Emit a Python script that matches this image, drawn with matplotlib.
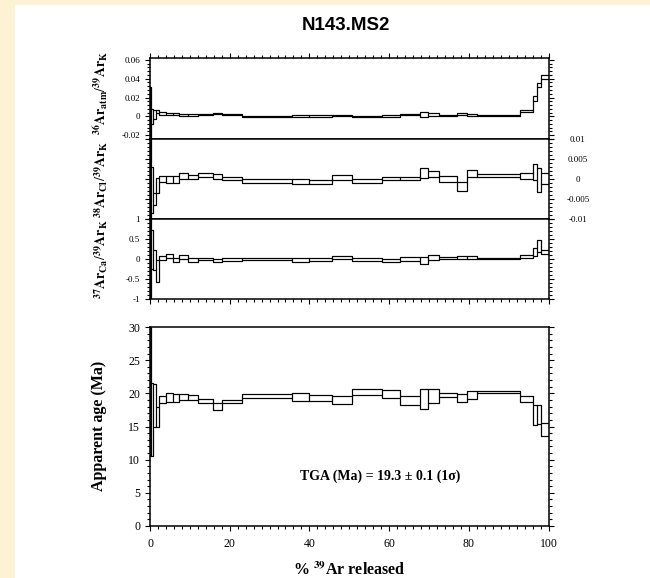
import numpy as np
import matplotlib
matplotlib.use("Agg")
import matplotlib.pyplot as plt
from matplotlib.ticker import MultipleLocator, FormatStrFormatter
from matplotlib.patches import Rectangle

plt.rcParams['font.family'] = ['Liberation Serif', 'DejaVu Serif']
plt.rcParams['mathtext.fontset'] = 'stix'
plt.rcParams['axes.unicode_minus'] = False

# cumulative % 39Ar released at the step boundaries
edges = [0, 0.3, 0.8, 1.5, 2.3, 4.1, 5.8, 7.4, 9.6, 12.1, 15.8, 18.0, 23.1,
         35.7, 39.8, 45.7, 50.7, 58.2, 62.8, 67.8, 69.8, 72.6, 77.0, 79.5,
         82.0, 92.9, 96.2, 97.2, 98.2, 100]

# apparent age (Ma) and 1 sigma
age = [22.2, 16.0, 18.2, 16.5, 19.05, 19.35, 19.3, 19.45, 19.4, 18.8, 18.0,
       18.75, 19.6, 19.5, 19.35, 19.0, 20.2, 19.9, 18.95, 19.1, 19.6, 19.75,
       19.3, 19.75, 20.2, 19.15, 16.7, 16.8, 14.55]
age_err = [11.7, 5.5, 3.2, 1.5, 0.55, 0.7, 0.65, 0.5, 0.4, 0.3, 0.5, 0.25,
           0.3, 0.6, 0.45, 0.6, 0.45, 0.6, 0.65, 1.5, 1.0, 0.35, 0.6, 0.65,
           0.2, 0.45, 1.5, 1.4, 0.95]

# 36Ar(atm)/39Ar(K)
atm = [0.003, 0.0, 0.002, 0.005, 0.003, 0.0025, 0.002, 0.0012, 0.0012, 0.002,
       0.003, 0.002, 0.0, 0.0, 0.0005, 0.001, -0.0005, 0.0005, 0.002, 0.002,
       0.002, 0.0008, 0.0022, 0.0015, 0.001, 0.0055, 0.019, 0.0335, 0.042]
atm_err = [0.028, 0.008, 0.005, 0.002, 0.0012, 0.001, 0.001, 0.001, 0.001,
           0.0008, 0.001, 0.0008, 0.0006, 0.001, 0.0008, 0.0008, 0.0006,
           0.0008, 0.0008, 0.003, 0.0012, 0.0008, 0.001, 0.0008, 0.0004,
           0.0012, 0.0025, 0.0022, 0.002]

# 38Ar(Cl)/39Ar(K)
cl = [0.0, -0.0028, -0.005, -0.0017, 0.0, -0.0001, -0.0001, 0.0007, 0.00055,
      0.0009, 0.0006, 0.00015, -0.0005, -0.00065, -0.0007, 0.00035, -0.0005,
      0.0002, 0.0002, 0.00145, 0.00125, 0.00005, -0.0018, 0.00145, 0.0009,
      0.00065, 0.0017, -0.00025, 0.0002]
cl_err = [0.02, 0.0058, 0.0015, 0.0019, 0.0007, 0.0008, 0.0008, 0.0007,
          0.00055, 0.0005, 0.0007, 0.00045, 0.0004, 0.00055, 0.0005, 0.00065,
          0.0004, 0.0004, 0.0004, 0.00125, 0.00085, 0.00075, 0.0011, 0.00085,
          0.0003, 0.00075, 0.002, 0.00295, 0.0014]

# 37Ar(Ca)/39Ar(K)
ca = [0.0, 0.23, -0.03, -0.3, 0.015, 0.07, -0.03, 0.045, -0.025, -0.01,
      -0.05, -0.02, -0.01, -0.03, -0.02, 0.035, -0.02, -0.035, -0.005,
      -0.035, 0.03, 0.02, 0.025, 0.035, 0.005, 0.05, 0.165, 0.32, 0.17]
ca_err = [1.2, 0.5, 0.25, 0.28, 0.045, 0.05, 0.05, 0.055, 0.045, 0.03, 0.04,
          0.03, 0.02, 0.04, 0.035, 0.04, 0.03, 0.04, 0.04, 0.09, 0.055, 0.02,
          0.035, 0.04, 0.015, 0.035, 0.105, 0.16, 0.05]

W, H = 650, 578


def fx(px):
    return px / W


def fy(py):
    return 1 - py / H


fig = plt.figure(figsize=(6.5, 5.78), dpi=100, facecolor='#fdf2d4')
fig.patches.append(Rectangle((fx(15), 0), 1, fy(5), transform=fig.transFigure,
                             facecolor='white', edgecolor='none', zorder=-1))

L, R = 150, 548.5


def make_ax(top, bottom):
    return fig.add_axes([fx(L), fy(bottom), fx(R - L), fy(top) - fy(bottom)])


ax_atm = make_ax(58, 139)
ax_cl = make_ax(139, 219)
ax_ca = make_ax(219, 298.5)
ax_age = make_ax(327, 526)


def spectrum(ax, val, err):
    val = np.array(val)
    err = np.array(err)
    lo, hi = val - err, val + err
    ax.bar(edges[:-1], hi - lo, width=np.diff(edges), bottom=lo, align='edge',
           fill=False, edgecolor='black', linewidth=0.8)
    ax.stairs(hi, edges, baseline=None, color='black', linewidth=0.8)
    ax.stairs(lo, edges, baseline=None, color='black', linewidth=0.8)


for ax in (ax_atm, ax_cl, ax_ca, ax_age):
    ax.set_xlim(0, 100)
    ax.xaxis.set_major_locator(MultipleLocator(20))
    ax.xaxis.set_minor_locator(MultipleLocator(2))
    for s in ax.spines.values():
        s.set_linewidth(1.1)
    ax.tick_params(which='both', direction='out', width=0.8, labelsize=6.5)
    ax.tick_params(which='major', length=3.6)
    ax.tick_params(which='minor', length=2.2)

spectrum(ax_atm, atm, atm_err)
ax_atm.set_ylim(-0.0242, 0.0621)
ax_atm.yaxis.set_major_locator(MultipleLocator(0.02))
ax_atm.yaxis.set_minor_locator(MultipleLocator(0.004))
ax_atm.yaxis.set_major_formatter(FormatStrFormatter('%g'))
ax_atm.tick_params(which='both', top=True, bottom=False, right=True,
                   labelbottom=False, labeltop=False)

spectrum(ax_cl, cl, cl_err)
ax_cl.set_ylim(-0.01, 0.01)
ax_cl.yaxis.set_major_locator(MultipleLocator(0.005))
ax_cl.yaxis.set_minor_locator(MultipleLocator(0.001))
ax_cl.yaxis.set_major_formatter(FormatStrFormatter('%g'))
ax_cl.tick_params(which='both', top=False, bottom=False, right=True,
                  labelbottom=False, labelleft=False, labelright=True)
ax_cl.tick_params(axis='y', pad=17.5)
for t in ax_cl.get_yticklabels():
    t.set_horizontalalignment('center')

spectrum(ax_ca, ca, ca_err)
ax_ca.set_ylim(-1, 1)
ax_ca.yaxis.set_major_locator(MultipleLocator(0.5))
ax_ca.yaxis.set_minor_locator(MultipleLocator(0.1))
ax_ca.yaxis.set_major_formatter(FormatStrFormatter('%g'))
ax_ca.tick_params(which='both', top=False, bottom=True, right=True,
                  labelbottom=False)

spectrum(ax_age, age, age_err)
ax_age.set_ylim(0, 30)
ax_age.yaxis.set_major_locator(MultipleLocator(5))
ax_age.yaxis.set_minor_locator(MultipleLocator(1))
ax_age.tick_params(which='both', top=False, right=True, labelsize=8.5)
ax_age.tick_params(axis='x', pad=5)

# axis titles
lab = dict(rotation=90, ha='center', va='center', fontsize=10)
fig.text(fx(101), fy(93),
         r'$^{\mathbf{36}}\mathbf{Ar}_{\mathbf{atm}}/^{\mathbf{39}}\mathbf{Ar}_{\mathbf{K}}$', **lab)
fig.text(fx(101), fy(179),
         r'$^{\mathbf{38}}\mathbf{Ar}_{\mathbf{Cl}}/^{\mathbf{39}}\mathbf{Ar}_{\mathbf{K}}$', **lab)
fig.text(fx(101), fy(259),
         r'$^{\mathbf{37}}\mathbf{Ar}_{\mathbf{Ca}}/^{\mathbf{39}}\mathbf{Ar}_{\mathbf{K}}$', **lab)
fig.text(fx(99), fy(426), 'Apparent age (Ma)', rotation=90, ha='center',
         va='center', fontsize=11.5, fontweight='bold')
fig.text(fx(349), fy(575), r'% $^{\mathbf{39}}$Ar released', ha='center',
         va='baseline', fontsize=11.5, fontweight='bold')

ax_age.text(0.376, 0.251, 'TGA (Ma) = 19.3 ± 0.1 (1σ)', transform=ax_age.transAxes,
            ha='left', va='center', fontsize=10, fontweight='bold')

fig.text(fx(346), fy(26), 'N143.MS2', ha='center', va='center',
         family=['Liberation Sans', 'DejaVu Sans'], fontsize=13.5, fontweight='bold')

fig.savefig('out.png', dpi=100, facecolor=fig.get_facecolor())
